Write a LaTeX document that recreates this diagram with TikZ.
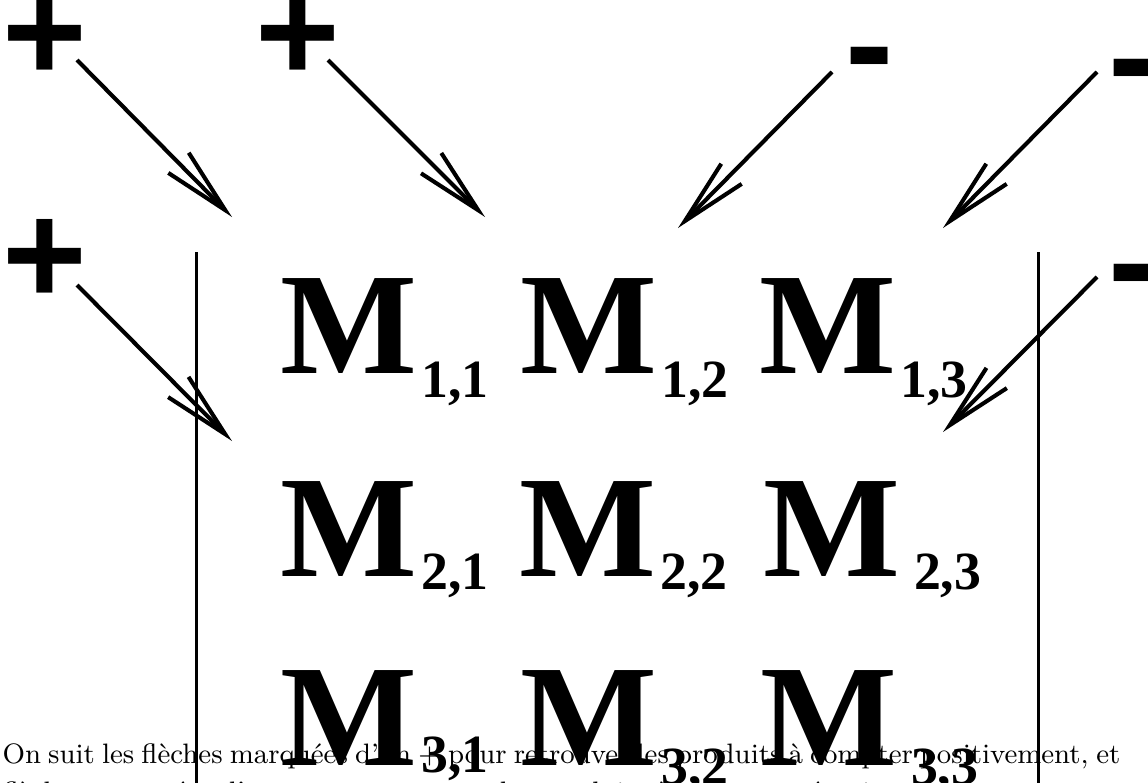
\documentclass[tikz,border=0pt]{standalone}
\usepackage{fontspec}
\usetikzlibrary{arrows.meta}
\newfontfamily\matfont{Liberation Serif}
\newfontfamily\signfont{Liberation Sans}
\newcommand\idx[2][8pt]{\kern1.3pt\raisebox{-#1}{\fontsize{17.8}{17.8}\selectfont #2}}
\tikzset{
  entry/.style={anchor=base west,inner sep=0pt,font=\matfont\bfseries\fontsize{48}{48}\selectfont},
  sign/.style={inner sep=0pt,font=\signfont\bfseries\fontsize{48}{48}\selectfont},
  fleche/.style={line width=1.35pt,-{Straight Barb[length=22pt,width=9.5pt]}},
  barre/.style={line width=1.3pt},
  ligne/.style={anchor=base west,inner sep=0pt,font=\fontsize{9.3}{11.2}\selectfont}
}
\begin{document}
\begin{tikzpicture}[x=0.331pt,y=-0.331pt]
\useasboundingbox (0,0) rectangle (1148,782);
\clip (0,0) rectangle (1148,782);
% signes
\node[sign] (p1) at (45,39) {+};
\node[sign] (p2) at (298,39) {+};
\node[sign] (p3) at (45,262) {+};
\node[sign] (m1) at (870,70.5) {-};
\node[sign] (m2) at (1133,82.5) {-};
\node[sign] (m3) at (1133,287) {-};
% debuts et fins des fleches
\coordinate (d1) at (77,60);
\coordinate (d2) at (328,60);
\coordinate (d3) at (77,285);
\coordinate (d4) at (832,72);
\coordinate (d5) at (1097,72);
\coordinate (d6) at (1097,277);
\coordinate (f1) at (232,217);
\coordinate (f2) at (485,217);
\coordinate (f3) at (232,441);
\coordinate (f4) at (678,228);
\coordinate (f5) at (943,228);
\coordinate (f6) at (943,432);
\draw[fleche] (d1) -- (f1);
\draw[fleche] (d2) -- (f2);
\draw[fleche] (d3) -- (f3);
\draw[fleche] (d4) -- (f4);
\draw[fleche] (d5) -- (f5);
\draw[fleche] (d6) -- (f6);
% determinant
\coordinate (g1) at (196.5,252);
\coordinate (g2) at (196.5,790);
\coordinate (r1) at (1038.5,252);
\coordinate (r2) at (1038.5,790);
\draw[barre] (g1) -- (g2);
\draw[barre] (r1) -- (r2);
\node[entry] (a11) at (280,373) {M\idx{1,1}};
\node[entry] (a12) at (520,373) {M\idx{1,2}};
\node[entry] (a13) at (759,373) {M\idx{1,3}};
\node[entry] (a21) at (280,576) {M\idx[4.6pt]{2,1}};
\node[entry] (a22) at (519,576) {M\idx[4.6pt]{2,2}};
\node[entry] (a23) at (763,576) {M\hspace{3.2pt}\idx[4.6pt]{2,3}};
\node[entry] (a31) at (280,765) {M\idx[2.5pt]{3,1}};
\node[entry] (a32) at (520,765) {M\idx[6.5pt]{3,2}};
\node[entry] (a33) at (760,765) {M\hspace{3.2pt}\idx[6.5pt]{3,3}};
% texte
\node[ligne] (l1) at (2,763)
  {\makebox[370pt][s]{On suit les flèches marquées d’un + pour retrouver les produits à compter positivement, et}};
\node[ligne] (l2) at (2,801)
  {flèches marquées d’un - pour retrouver les produits à compter négativement};
\end{tikzpicture}
\end{document}
